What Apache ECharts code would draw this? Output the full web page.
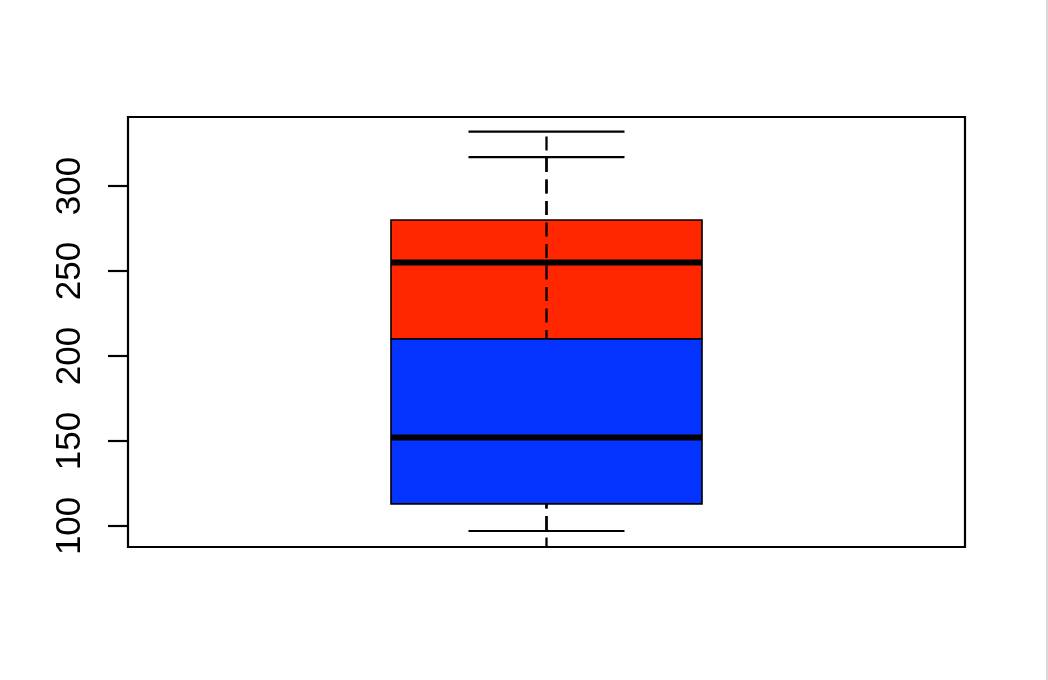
<!DOCTYPE html>
<html>
<head>
<meta charset="utf-8">
<style>
html,body{margin:0;padding:0;background:#fff;}
#c{width:1048px;height:680px;}
</style>
<script src="https://cdn.jsdelivr.net/npm/echarts@6/dist/echarts.min.js"></script>
</head>
<body>
<div id="c"></div>
<script>
// Data: two overlaid box plots (drawn in this order)
const boxNames = ['second', 'first'];
const lowerWhisker = [60, 97];
const q1 = [210, 113];
const median = [255, 152];
const q3 = [280, 210];
const upperWhisker = [332, 317];
const yTicks = [100, 150, 200, 250, 300];

// Styles
const boxColors = ['#FF2600', '#0433FF'];
const BOX_HALF = 0.1858;
const CAP_HALF = 0.0932;
const DASH = [14, 7.5];
const PERIOD = DASH[0] + DASH[1];

const chart = echarts.init(document.getElementById('c'), null, {renderer: 'canvas'});

const seriesData = boxNames.map((n, i) => [1, lowerWhisker[i], q1[i], median[i], q3[i], upperWhisker[i], i]);

function mod(v, p) { return ((v % p) + p) % p; }

function renderItem(params, api) {
  const x = api.value(0);
  const lo = api.value(1), a = api.value(2), m = api.value(3), b = api.value(4), hi = api.value(5);
  const idx = api.value(6);
  const pL = api.coord([x - BOX_HALF, b]);
  const pR = api.coord([x + BOX_HALF, a]);
  const cx = api.coord([x, m])[0];
  const cL = api.coord([x - CAP_HALF, lo])[0];
  const cR = api.coord([x + CAP_HALF, lo])[0];
  const yLo = api.coord([x, lo])[1];
  const yHi = api.coord([x, hi])[1];
  const yA = api.coord([x, a])[1];
  const yB = api.coord([x, b])[1];
  const yM = api.coord([x, m])[1];
  const dashDown = {stroke: '#000', lineWidth: 2.3, lineDash: DASH, lineDashOffset: mod(yA, PERIOD)};
  const dashUp = {stroke: '#000', lineWidth: 2.3, lineDash: DASH, lineDashOffset: mod(-yB, PERIOD)};
  return {
    type: 'group',
    children: [
      {type: 'rect', shape: {x: pL[0], y: pL[1], width: pR[0] - pL[0], height: pR[1] - pL[1]},
       style: {fill: boxColors[idx], stroke: '#000', lineWidth: 1.6}},
      {type: 'line', shape: {x1: pL[0], y1: yM, x2: pR[0], y2: yM},
       style: {stroke: '#000', lineWidth: 6}},
      {type: 'line', shape: {x1: cx, y1: yA, x2: cx, y2: yLo}, style: dashDown},
      {type: 'line', shape: {x1: cx, y1: yB, x2: cx, y2: yHi}, style: dashUp},
      {type: 'line', shape: {x1: cL, y1: yLo, x2: cR, y2: yLo}, style: {stroke: '#000', lineWidth: 2.2}},
      {type: 'line', shape: {x1: cL, y1: yHi, x2: cR, y2: yHi}, style: {stroke: '#000', lineWidth: 2.2}}
    ]
  };
}

chart.setOption({
  animation: false,
  backgroundColor: '#fff',
  grid: {left: 128, right: 83, top: 117, bottom: 133, show: true, borderColor: '#000', borderWidth: 2.2, backgroundColor: 'transparent'},
  xAxis: {type: 'value', min: 0.5, max: 1.5, show: false},
  yAxis: {
    type: 'value', min: 87.6, max: 340.6,
    axisLine: {show: false},
    splitLine: {show: false},
    axisTick: {show: true, length: 20, lineStyle: {color: '#000', width: 2.2}, customValues: yTicks},
    axisLabel: {show: true, rotate: 90, margin: 40, fontSize: 35, color: '#000', fontFamily: 'Liberation Sans', customValues: yTicks}
  },
  graphic: [{type: 'rect', shape: {x: 1046, y: 0, width: 2, height: 680}, style: {fill: '#D9D9D9'}}],
  series: [{
    type: 'custom',
    renderItem: renderItem,
    clip: true,
    encode: {x: 0, y: [1, 2, 3, 4, 5]},
    data: seriesData
  }]
});
</script>
</body>
</html>
